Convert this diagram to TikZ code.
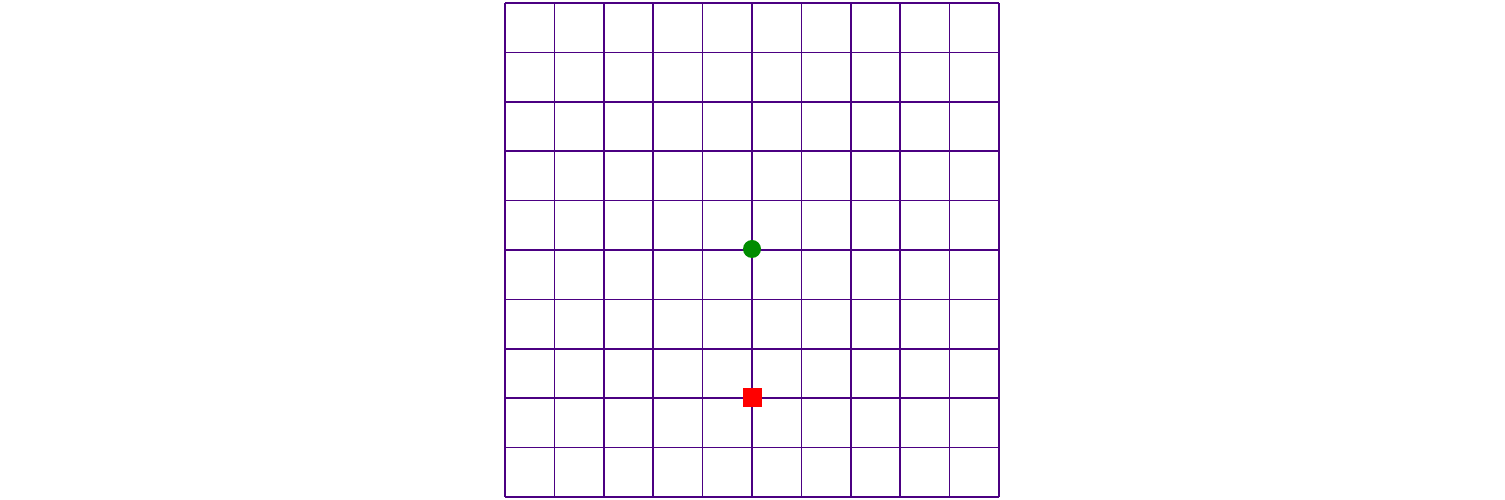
\documentclass[tikz,border=0pt]{standalone}
\definecolor{gridpurple}{RGB}{75,0,130}
\definecolor{dotgreen}{RGB}{0,140,0}
\begin{document}
\begin{tikzpicture}[x=1pt,y=1pt,
  gridline/.style={draw=gridpurple,line width=1.6pt},
  goaldot/.style={circle,fill=dotgreen,inner sep=0pt,minimum size=18pt},
  startsq/.style={rectangle,fill=red,inner sep=0pt,minimum size=19pt}]
\useasboundingbox (0,0) rectangle (1505,500);
\foreach \i in {0,...,10}{
  \draw[gridline] ({505+49.4*\i},3) -- ({505+49.4*\i},497);
  \draw[gridline] (505,{3+49.4*\i}) -- (999,{3+49.4*\i});
}
\node[goaldot] (goal) at (752,251) {};
\node[startsq] (start) at (752,102) {};
\end{tikzpicture}
\end{document}
